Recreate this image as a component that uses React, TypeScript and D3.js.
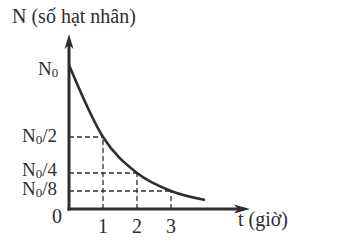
import React from "react";
import * as d3 from "d3";

// Decay curve: time in hours and remaining fraction of N0
const times = [0, 1, 2, 3, 4];
const fractions = [1, 0.5, 0.25, 0.125, 0.0625];

// Marked half-life points
const markedTimes = [1, 2, 3];
const markedFractions = [0.5, 0.25, 0.125];
const markedLabels = ["2", "4", "8"];

const W = 339;
const H = 241;
const ink = "#2e2e2e";
const serif = { fontFamily: "Liberation Serif" };

export default function App() {
  const x = d3.scaleLinear().domain([0, 1]).range([69, 103]);
  const y = d3.scaleLinear().domain([0, 1]).range([209, 65]);

  const line = d3
    .line<number>()
    .x((_, i) => x(times[i]))
    .y((d) => y(d))
    .curve(d3.curveMonotoneX);

  const x0 = x(0);
  const y0 = y(0);
  const labelBaselines = [142, 176, 195];

  return (
    <svg
      width={W}
      height={H}
      style={{ position: "absolute", left: 0, top: 0, background: "#fff" }}
      fill={ink}
    >
      {/* dashed guides */}
      {markedTimes.map((t, i) => (
        <g key={t} stroke={ink} strokeWidth={1.3} strokeDasharray="5,3" fill="none">
          <line x1={x(t)} x2={x(t)} y1={y0} y2={y(markedFractions[i])} />
          <line x1={x0} x2={x(t)} y1={y(markedFractions[i])} y2={y(markedFractions[i])} />
        </g>
      ))}

      {/* decay curve */}
      <path d={line(fractions) ?? ""} fill="none" stroke={ink} strokeWidth={2.6} />

      {/* axes */}
      <line x1={x0} x2={x0} y1={y0 + 1.5} y2={40} stroke={ink} strokeWidth={3} />
      <path d={`M${x0 - 4.5},${49} L${x0},${34} L${x0 + 4.5},${49} L${x0},${45} Z`} fill={ink} />
      <line x1={x0 - 1.5} x2={244} y1={y0} y2={y0} stroke={ink} strokeWidth={3} />
      <path d={`M${234},${y0 - 4.5} L${250},${y0} L${234},${y0 + 4.5} L${238},${y0} Z`} fill={ink} />

      {/* axis titles */}
      <text x={12} y={23} fontSize={20} style={serif}>N (số hạt nhân)</text>
      <text x={238} y={226} fontSize={20} style={serif}>t (giờ)</text>

      {/* y labels */}
      <text x={38} y={75} fontSize={19} style={serif}>
        N<tspan fontSize={13} dy={2}>0</tspan>
      </text>
      {markedFractions.map((f, i) => (
        <text key={f} x={22} y={labelBaselines[i]} fontSize={19} style={serif}>
          N<tspan fontSize={13} dy={2}>0</tspan>
          <tspan dy={-2}>/{markedLabels[i]}</tspan>
        </text>
      ))}
      <text x={52} y={223} fontSize={20} style={serif}>0</text>

      {/* x tick labels */}
      {markedTimes.map((t) => (
        <text key={t} x={x(t)} y={233} fontSize={20} textAnchor="middle" style={serif}>
          {t}
        </text>
      ))}
    </svg>
  );
}
